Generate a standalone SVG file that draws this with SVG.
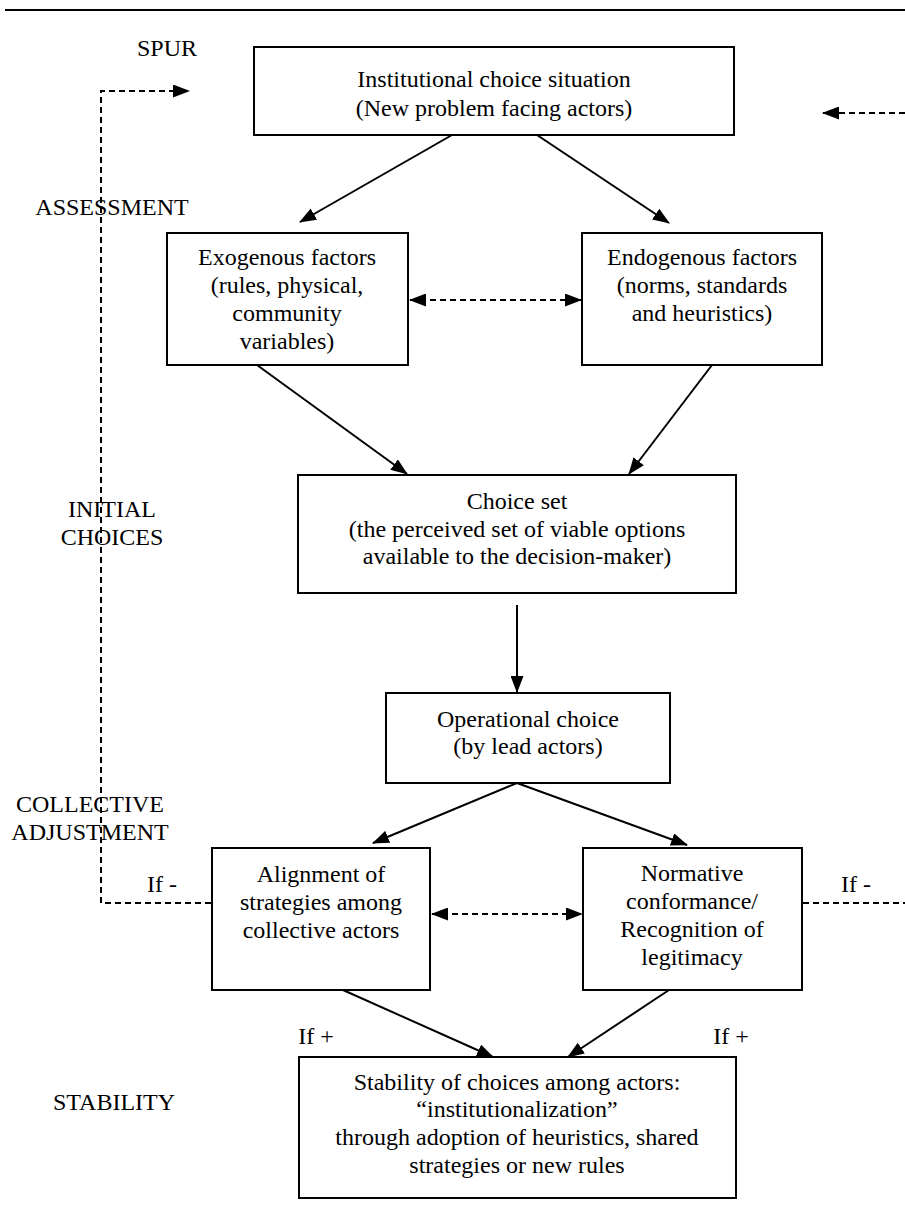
<svg xmlns="http://www.w3.org/2000/svg" width="905" height="1218" viewBox="0 0 905 1218">
<defs>
<style>
.box{fill:#fff;stroke:#000;stroke-width:2}
.t{font-family:"Liberation Serif","Times New Roman",serif;font-size:24px;fill:#000;text-anchor:middle}
.c{stroke:#000;stroke-width:2;fill:none}
.d{stroke:#000;stroke-width:2;fill:none;stroke-dasharray:6 4}
</style>
<marker id="ah" markerUnits="userSpaceOnUse" markerWidth="17" markerHeight="13" refX="16" refY="6.5" orient="auto-start-reverse" viewBox="0 0 17 13">
<path d="M0,0 L17,6.5 L0,13 z" fill="#000"/>
</marker>
</defs>
<rect width="905" height="1218" fill="#fff"/>
<line x1="5" y1="10" x2="905" y2="10" stroke="#000" stroke-width="2"/>

<g id="stage-labels">
<text class="t" x="167" y="56">SPUR</text>
<text class="t" x="112" y="215">ASSESSMENT</text>
<text class="t" x="112" y="517">INITIAL</text>
<text class="t" x="112" y="545">CHOICES</text>
<text class="t" x="90" y="812">COLLECTIVE</text>
<text class="t" x="90" y="840">ADJUSTMENT</text>
<text class="t" x="114" y="1110">STABILITY</text>
</g>

<g id="connectors">
<line class="c" x1="452" y1="135" x2="300" y2="222" marker-end="url(#ah)"/>
<line class="c" x1="537" y1="135" x2="669" y2="223" marker-end="url(#ah)"/>
<line class="c" x1="257" y1="365" x2="407" y2="474" marker-end="url(#ah)"/>
<line class="c" x1="712" y1="365" x2="629" y2="474" marker-end="url(#ah)"/>
<line class="c" x1="517" y1="605" x2="517" y2="692" marker-end="url(#ah)"/>
<line class="c" x1="517" y1="783" x2="373" y2="843" marker-end="url(#ah)"/>
<line class="c" x1="517" y1="783" x2="687" y2="845" marker-end="url(#ah)"/>
<line class="c" x1="343" y1="990" x2="493" y2="1057" marker-end="url(#ah)"/>
<line class="c" x1="669" y1="990" x2="568" y2="1057" marker-end="url(#ah)"/>
<line class="d" x1="410" y1="300" x2="581" y2="300" marker-start="url(#ah)" marker-end="url(#ah)"/>
<line class="d" x1="432" y1="914" x2="582" y2="914" marker-start="url(#ah)" marker-end="url(#ah)"/>
<polyline class="d" points="211,903 101,903 101,91 189,91" marker-end="url(#ah)"/>
<line class="d" x1="803" y1="903" x2="905" y2="903"/>
<line class="d" x1="905" y1="113" x2="823" y2="113" marker-end="url(#ah)"/>
<text class="t" x="162" y="892">If -</text>
<text class="t" x="856" y="892">If -</text>
<text class="t" x="316" y="1044">If +</text>
<text class="t" x="731" y="1044">If +</text>
</g>

<g id="n-institutional">
<rect class="box" x="254" y="47" width="480" height="88"/>
<text class="t" x="494" y="87">Institutional choice situation</text>
<text class="t" x="494" y="116">(New problem facing actors)</text>
</g>

<g id="n-exogenous">
<rect class="box" x="167" y="233" width="241" height="132"/>
<text class="t" x="287" y="265">Exogenous factors</text>
<text class="t" x="287" y="293">(rules, physical,</text>
<text class="t" x="287" y="321">community</text>
<text class="t" x="287" y="349">variables)</text>
</g>

<g id="n-endogenous">
<rect class="box" x="582" y="233" width="240" height="132"/>
<text class="t" x="702" y="265">Endogenous factors</text>
<text class="t" x="702" y="293">(norms, standards</text>
<text class="t" x="702" y="321">and heuristics)</text>
</g>

<g id="n-choiceset">
<rect class="box" x="298" y="475" width="438" height="118"/>
<text class="t" x="517" y="509">Choice set</text>
<text class="t" x="517" y="537">(the perceived set of viable options</text>
<text class="t" x="517" y="564">available to the decision-maker)</text>
</g>

<g id="n-operational">
<rect class="box" x="386" y="693" width="284" height="90"/>
<text class="t" x="528" y="727">Operational choice</text>
<text class="t" x="528" y="754">(by lead actors)</text>
</g>

<g id="n-alignment">
<rect class="box" x="212" y="848" width="218" height="142"/>
<text class="t" x="321" y="882">Alignment of</text>
<text class="t" x="321" y="910">strategies among</text>
<text class="t" x="321" y="938">collective actors</text>
</g>

<g id="n-normative">
<rect class="box" x="583" y="848" width="219" height="142"/>
<text class="t" x="692" y="881">Normative</text>
<text class="t" x="692" y="909">conformance/</text>
<text class="t" x="692" y="937">Recognition of</text>
<text class="t" x="692" y="965">legitimacy</text>
</g>

<g id="n-stability">
<rect class="box" x="299" y="1057" width="437" height="141"/>
<text class="t" x="517" y="1090">Stability of choices among actors:</text>
<text class="t" x="517" y="1117">“institutionalization”</text>
<text class="t" x="517" y="1145">through adoption of heuristics, shared</text>
<text class="t" x="517" y="1173">strategies or new rules</text>
</g>
</svg>
